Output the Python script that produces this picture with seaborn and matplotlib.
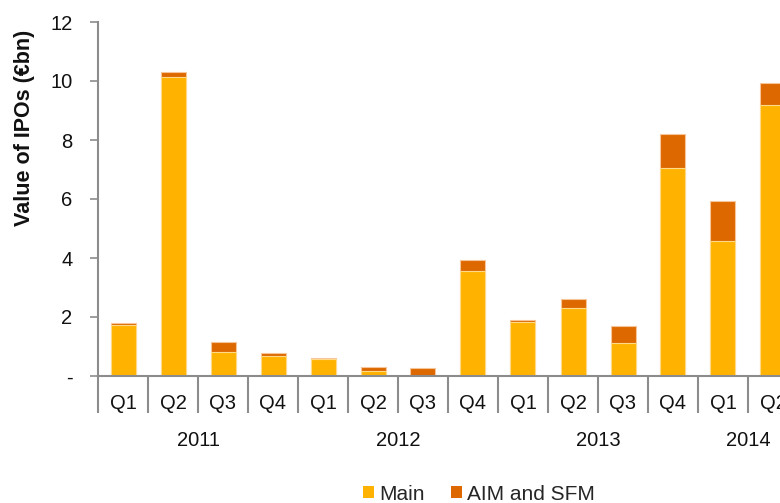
import matplotlib
matplotlib.use("Agg")
import matplotlib.pyplot as plt
import seaborn as sns
import pandas as pd
from matplotlib.patches import Patch
from matplotlib.ticker import FixedLocator, FixedFormatter
import matplotlib.transforms as mtransforms

quarters = ["Q1", "Q2", "Q3", "Q4", "Q1", "Q2", "Q3", "Q4", "Q1", "Q2", "Q3", "Q4", "Q1", "Q2"]
years = ["2011"] * 4 + ["2012"] * 4 + ["2013"] * 4 + ["2014"] * 2
main = [1.73, 10.15, 0.82, 0.68, 0.58, 0.18, 0.0, 3.56, 1.84, 2.31, 1.13, 7.04, 4.59, 9.18]
aim_sfm = [0.08, 0.15, 0.34, 0.10, 0.03, 0.13, 0.26, 0.37, 0.05, 0.31, 0.56, 1.15, 1.34, 0.76]
year_labels = ["2011", "2012", "2013", "2014"]
y_ticks = [0, 2, 4, 6, 8, 10, 12]
y_tick_labels = ["-", "2", "4", "6", "8", "10", "12"]

MAIN_C = "#FFB300"
AIM_C = "#DD6800"
GRAY = "#8C8C8C"
TXT = "#111111"
FS = 14.5

sns.set_theme(style="white")
plt.rcParams["font.family"] = ["Liberation Sans", "DejaVu Sans"]

df = pd.DataFrame({
    "key": [f"{q} {y}" for q, y in zip(quarters, years)],
    "main": main,
    "aim": aim_sfm,
})
df["total"] = df["main"] + df["aim"]

W, H = 780, 503
fig = plt.figure(figsize=(W / 100, H / 100), dpi=100)
ax_left, ax_right = 98 / W, 1.0
ax_bottom, ax_top = (H - 376) / H, (H - 22) / H
ax = fig.add_axes([ax_left, ax_bottom, ax_right - ax_left, ax_top - ax_bottom])

sns.barplot(data=df, x="key", y="total", color=AIM_C, width=0.5, ax=ax,
            edgecolor="#F7C59A", linewidth=0.8, saturation=1)
sns.barplot(data=df, x="key", y="main", color=MAIN_C, width=0.5, ax=ax,
            edgecolor="#FFD98A", linewidth=0.8, saturation=1)

ax.set_xlim(-0.5, 13.14)
ax.set_ylim(0, 12)
ax.set_xlabel("")
ax.set_ylabel("")

# y axis
ax.yaxis.set_major_locator(FixedLocator(y_ticks))
ax.yaxis.set_major_formatter(FixedFormatter(y_tick_labels))
ax.tick_params(axis="y", which="major", left=True, length=6, width=1.2, color=GRAY,
               labelsize=FS, labelcolor=TXT, pad=12.5)

# x axis labels
ax.set_xticks(range(len(quarters)))
ax.set_xticklabels(quarters)
ax.tick_params(axis="x", bottom=False, length=0, labelsize=FS, labelcolor=TXT, pad=13)

for side in ["top", "right"]:
    ax.spines[side].set_visible(False)
for side in ["left", "bottom"]:
    ax.spines[side].set_color(GRAY)
    ax.spines[side].set_linewidth(1.5)

# category separators
trans = mtransforms.blended_transform_factory(ax.transData, ax.transAxes)
sep_len = 37 / (376 - 22)
for i in range(len(quarters) + 1):
    ax.plot([i - 0.5, i - 0.5], [0, -sep_len], transform=trans, color=GRAY,
            linewidth=1.5, clip_on=False, solid_capstyle="butt")

# year labels
year_pos = [1.5, 5.5, 9.5, 12.5]
for yl, xp in zip(year_labels, year_pos):
    ax.text(xp, -(440 - 376) / (376 - 22), yl, transform=trans, ha="center", va="center",
            fontsize=FS, color=TXT)

fig.text(25 / W, 1 - 128 / H, "Value of IPOs (€bn)", rotation=90, ha="center", va="center",
         fontsize=15.5, fontweight="bold", color=TXT)

handles = [Patch(facecolor=MAIN_C, edgecolor="none", label="Main"),
           Patch(facecolor=AIM_C, edgecolor="none", label="AIM and SFM")]
fig.legend(handles=handles, loc="center", bbox_to_anchor=(479 / W, 1 - 494 / H), ncol=2,
           frameon=False, fontsize=15, handlelength=0.5, handleheight=0.5,
           handletextpad=0.25, columnspacing=1.3, borderpad=0, borderaxespad=0)

fig.savefig("out.png", dpi=100)
